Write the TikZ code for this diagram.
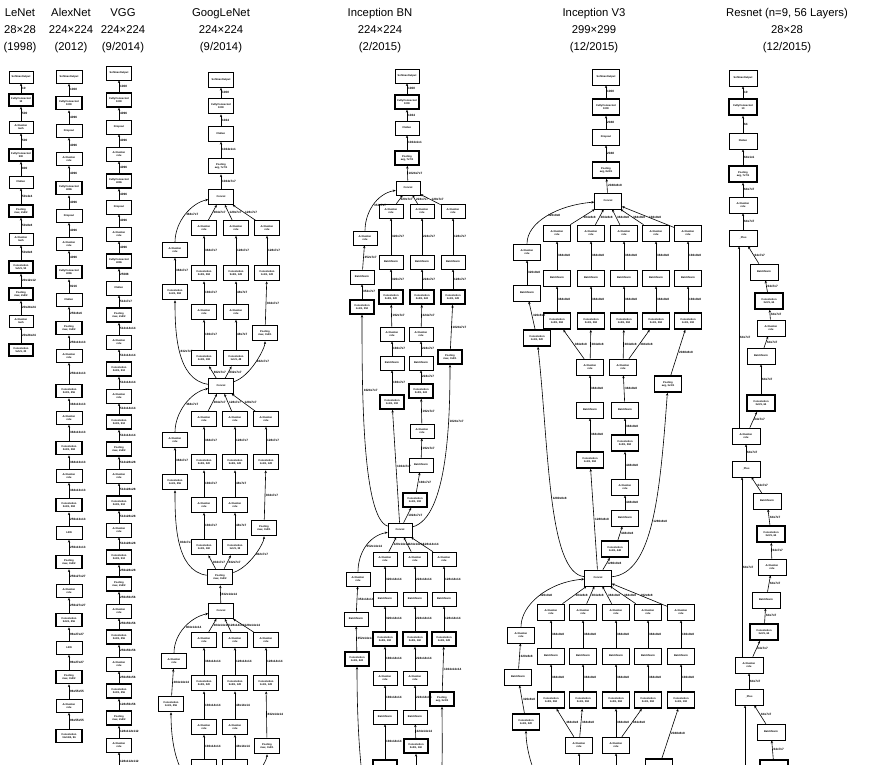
\documentclass[tikz,border=0pt]{standalone}
\usepackage{fontspec}
\setmainfont{Liberation Sans}
\usepackage{tikz}
\usetikzlibrary{arrows.meta}
\newcommand{\lact}{Activation\\relu}
\newcommand{\lbn}{BatchNorm}
\newcommand{\lcat}{Concat}
\newcommand{\lplus}{\_Plus}

\begin{document}
\begin{tikzpicture}[x=1pt, y=-1pt,
  lay/.style={draw, line width=0.6pt, fill=white, align=center, inner sep=0.3pt,
              minimum width=25pt, minimum height=14pt, font=\fontsize{2.6}{3.1}\selectfont\bfseries},
  hvy/.style={lay, line width=1.6pt},
  ar/.style={-{Stealth[length=2.8pt, width=2.4pt]}, line width=0.6pt},
  lb/.style={right, inner sep=0.8pt, font=\fontsize{3.1}{3.4}\selectfont\bfseries},
  ttl/.style={align=center, inner sep=0pt, font=\fontsize{11.3}{17}\selectfont}
]
\useasboundingbox (0,0) rectangle (869,764);

% titles
\node[ttl] (tle) at (20,31) {LeNet\\28×28\\(1998)};
\node[ttl] (tal) at (71,31) {AlexNet\\224×224\\(2012)};
\node[ttl] (tvg) at (123,31) {VGG\\224×224\\(9/2014)};
\node[ttl] (tgo) at (221,31) {GoogLeNet\\224×224\\(9/2014)};
\node[ttl] (tbn) at (380,31) {Inception BN\\224×224\\(2/2015)};
\node[ttl] (tv3) at (594,31) {Inception V3\\299×299\\(12/2015)};
\node[ttl] (trs) at (787,31) {Resnet (n=9, 56 Layers)\\28×28\\(12/2015)};

% LeNet
\begin{scope}[lay/.append style={minimum width=24pt, minimum height=12pt}]
\foreach \y/\s/\t/\lab [count=\i] in {
  77/lay/SoftmaxOutput/{},
  100/hvy/{FullyConnected\\10}/10,
  127/lay/{Activation\\tanh}/500,
  155/hvy/{FullyConnected\\500}/500,
  182/lay/Flatten/800,
  211/hvy/{Pooling\\max, 2x2/2}/{50x4x4},
  239/lay/{Activation\\tanh}/{50x8x8},
  267/hvy/{Convolution\\5x5/1, 50}/{50x8x8},
  294/hvy/{Pooling\\max, 2x2/2}/{20x12x12},
  321/lay/{Activation\\tanh}/{20x24x24},
  350/hvy/{Convolution\\5x5/1, 20}/{20x24x24}}{
  \node[\s] (le\i) at (21,\y) {\t};
  \ifnum\i>1 \pgfmathtruncatemacro{\j}{\i-1}\draw[ar] (le\i) -- node[lb]{\lab} (le\j);\fi
}
\end{scope}

% AlexNet
\begin{scope}[lay/.append style={minimum width=26pt, minimum height=13pt}]
\foreach \y/\s/\t/\lab [count=\i] in {
  77/lay/SoftmaxOutput/{},
  103/hvy/{FullyConnected\\1000}/1000,
  131/lay/Dropout/4096,
  159/lay/\lact/4096,
  188/hvy/{FullyConnected\\4096}/4096,
  216/lay/Dropout/4096,
  244/lay/\lact/4096,
  272/hvy/{FullyConnected\\4096}/4096,
  300/lay/Flatten/9216,
  328/hvy/{Pooling\\max, 3x3/2}/{256x6x6},
  356/lay/\lact/{256x13x13},
  391/hvy/{Convolution\\3x3/1, 256}/{256x13x13},
  418/lay/\lact/{384x13x13},
  448/hvy/{Convolution\\3x3/1, 384}/{384x13x13},
  476/lay/\lact/{384x13x13},
  505/hvy/{Convolution\\3x3/1, 384}/{384x13x13},
  533/lay/LRN/{256x13x13},
  562/hvy/{Pooling\\max, 3x3/2}/{256x13x13},
  591/lay/\lact/{256x27x27},
  620/hvy/{Convolution\\5x5/1, 256}/{256x27x27},
  648/lay/LRN/{96x27x27},
  677/hvy/{Pooling\\max, 3x3/2}/{96x27x27},
  706/lay/\lact/{96x55x55},
  736/hvy/{Convolution\\11x11/4, 96}/{96x55x55}}{
  \node[\s] (al\i) at (69,\y) {\t};
  \ifnum\i>1 \pgfmathtruncatemacro{\j}{\i-1}\draw[ar] (al\i) -- node[lb]{\lab} (al\j);\fi
}
\end{scope}

% VGG
\begin{scope}[lay/.append style={minimum width=25pt, minimum height=14pt}]
\foreach \y/\s/\t/\lab [count=\i] in {
  73/lay/SoftmaxOutput/{},
  100/hvy/{FullyConnected\\1000}/1000,
  127/lay/Dropout/4096,
  154/lay/\lact/4096,
  181/hvy/{FullyConnected\\4096}/4096,
  207/lay/Dropout/4096,
  234/lay/\lact/4096,
  261/hvy/{FullyConnected\\4096}/4096,
  288/lay/Flatten/25088,
  315/hvy/{Pooling\\max, 2x2/2}/{512x7x7},
  342/lay/\lact/{512x14x14},
  369/hvy/{Convolution\\3x3/1, 512}/{512x14x14},
  396/lay/\lact/{512x14x14},
  422/hvy/{Convolution\\3x3/1, 512}/{512x14x14},
  449/hvy/{Pooling\\max, 2x2/2}/{512x14x14},
  476/lay/\lact/{512x28x28},
  503/hvy/{Convolution\\3x3/1, 512}/{512x28x28},
  530/lay/\lact/{512x28x28},
  557/hvy/{Convolution\\3x3/1, 512}/{512x28x28},
  584/hvy/{Pooling\\max, 2x2/2}/{256x28x28},
  611/lay/\lact/{256x56x56},
  637/hvy/{Convolution\\3x3/1, 256}/{256x56x56},
  664/lay/\lact/{256x56x56},
  691/hvy/{Convolution\\3x3/1, 256}/{256x56x56},
  718/hvy/{Pooling\\max, 2x2/2}/{128x56x56},
  745/lay/\lact/{128x112x112}}{
  \node[\s] (vg\i) at (119,\y) {\t};
  \ifnum\i>1 \pgfmathtruncatemacro{\j}{\i-1}\draw[ar] (vg\i) -- node[lb]{\lab} (vg\j);\fi
}
\end{scope}
\coordinate (vgx) at (119,800);
\draw[ar] (vgx) -- node[lb, pos=0.8]{128x112x112} (vg26);

% GoogLeNet
\begin{scope}[lay/.append style={minimum width=25pt, minimum height=15pt}]
\foreach \n/\x/\y/\s/\t in {
  g1/221/80/lay/SoftmaxOutput, g2/221/106/hvy/{FullyConnected\\1000},
  g3/221/134/lay/Flatten, g4/221/166/hvy/{Pooling\\avg, 7x7/1}, gc1/221/197/lay/\lcat,
  g1a1/204/228/lay/\lact, g1b1/236/228/lay/\lact, g1c1/267/228/lay/\lact, g1l1/175/250/lay/\lact,
  g1a2/204/273/hvy/{Convolution\\3x3/1, 384}, g1b2/236/273/hvy/{Convolution\\5x5/1, 128},
  g1c2/267/273/hvy/{Convolution\\1x1/1, 128}, g1l2/175/292/hvy/{Convolution\\1x1/1, 384},
  g1a3/204/312/lay/\lact, g1b3/236/312/lay/\lact, g1p/265/333/hvy/{Pooling\\max, 3x3/1},
  g1a4/204/358/hvy/{Convolution\\1x1/1, 192}, g1b4/236/358/hvy/{Convolution\\1x1/1, 48},
  gc2/221/386/lay/\lcat,
  g2a1/204/419/lay/\lact, g2b1/235/419/lay/\lact, g2c1/266/419/lay/\lact, g2l1/175/440/lay/\lact,
  g2a2/204/462/hvy/{Convolution\\3x3/1, 320}, g2b2/235/462/hvy/{Convolution\\5x5/1, 128},
  g2c2/266/462/hvy/{Convolution\\1x1/1, 128}, g2l2/175/482/hvy/{Convolution\\1x1/1, 256},
  g2a3/204/505/lay/\lact, g2b3/235/505/lay/\lact, g2p/264/528/hvy/{Pooling\\max, 3x3/1},
  g2a4/204/547/hvy/{Convolution\\1x1/1, 160}, g2b4/235/547/hvy/{Convolution\\1x1/1, 32},
  gm/220/577/hvy/{Pooling\\max, 3x3/2}, gc3/221/611/lay/\lcat,
  g3a1/204/640/lay/\lact, g3b1/235/640/lay/\lact, g3c1/266/640/lay/\lact, g3l1/174/661/lay/\lact,
  g3a2/204/683/hvy/{Convolution\\3x3/1, 320}, g3b2/235/683/hvy/{Convolution\\5x5/1, 128},
  g3c2/266/683/hvy/{Convolution\\1x1/1, 128}, g3l2/171/704/hvy/{Convolution\\1x1/1, 256},
  g3a3/204/727/lay/\lact, g3b3/235/727/lay/\lact, g3p/267/746/hvy/{Pooling\\max, 3x3/1},
  g3a4/204/767/hvy/{}, g3b4/235/767/hvy/{}}
  {\node[\s] (\n) at (\x,\y) {\t};}
\end{scope}
\coordinate (gx) at (221,800);

\foreach \u/\v/\lab in {g2/g1/1000, g3/g2/1024, g4/g3/{1024x1x1}, gc1/g4/{1024x7x7}, gc3/gm/{832x14x14}}
  {\draw[ar] (\u) -- node[lb]{\lab} (\v);}
\foreach \m/\sz in {1/7x7, 2/7x7, 3/14x14}{
  \draw[ar] (g\m a1) -- node[lb]{384x\sz} (gc\m);
  \draw[ar] (g\m b1) -- node[lb]{128x\sz} (gc\m);
  \draw[ar] (g\m c1) -- node[lb]{128x\sz} (gc\m);
  \draw[ar] (g\m l1) .. controls +(0,-28) and +(-30,6) .. (gc\m) node[lb, midway]{384x\sz};
  \draw[ar] (g\m a2) -- node[lb]{384x\sz} (g\m a1);
  \draw[ar] (g\m a3) -- node[lb]{192x\sz} (g\m a2);
  \draw[ar] (g\m a4) -- node[lb]{192x\sz} (g\m a3);
  \draw[ar] (g\m b2) -- node[lb]{128x\sz} (g\m b1);
  \draw[ar] (g\m b3) -- node[lb]{48x\sz} (g\m b2);
  \draw[ar] (g\m b4) -- node[lb]{48x\sz} (g\m b3);
  \draw[ar] (g\m c2) -- node[lb]{128x\sz} (g\m c1);
  \draw[ar] (g\m p) -- node[lb]{832x\sz} (g\m c2);
  \draw[ar] (g\m l2) -- node[lb]{384x\sz} (g\m l1);
}
\foreach \m/\S in {1/gc2, 2/gm}{
  \draw[ar] (\S) -- node[lb]{832x7x7} (g\m a4);
  \draw[ar] (\S) -- node[lb]{832x7x7} (g\m b4);
  \draw[ar] (\S) .. controls +(30,-10) and +(0,15) .. (g\m p) node[lb, midway]{832x7x7};
  \draw[ar] (\S) .. controls +(-45,-6) and +(0,38) .. (g\m l2) node[lb, midway]{832x7x7};
}
\draw[ar] (gx) -- (g3a4);
\draw[ar] (gx) -- (g3b4);
\draw[ar] (gx) .. controls +(30,-10) and +(0,15) .. (g3p);
\draw[ar] (gx) .. controls +(-45,-6) and +(0,38) .. (g3l2);

% Inception BN
\begin{scope}[lay/.append style={minimum width=24pt, minimum height=14pt}]
\foreach \n/\x/\y/\s/\t in {
  n1/407/76/lay/SoftmaxOutput, n2/407/102/hvy/{FullyConnected\\1000},
  n3/407/128/lay/Flatten, n4/407/158/hvy/{Pooling\\avg, 7x7/1}, nc1/408/188/lay/\lcat,
  n1a1/391/211/lay/\lact, n1b1/422/211/lay/\lact, n1c1/453/211/lay/\lact, n1l1/365/238/lay/\lact,
  n1a2/391/262/lay/\lbn, n1b2/422/262/lay/\lbn, n1c2/453/262/lay/\lbn, n1l2/362/277/lay/\lbn,
  n1a3/391/297/hvy/{Convolution\\3x3/1, 320}, n1b3/422/297/hvy/{Convolution\\3x3/1, 224},
  n1c3/453/297/hvy/{Convolution\\1x1/1, 128}, n1l3/362/307/hvy/{Convolution\\1x1/1, 352},
  n1a4/392/334/lay/\lact, n1b4/421/334/lay/\lact, n1p/450/357/hvy/{Pooling\\max, 3x3/1},
  n1a5/392/363/lay/\lbn, n1b5/421/363/lay/\lbn,
  n1a6/392/402/hvy/{Convolution\\1x1/1, 192}, n1b6/421/391/hvy/{Convolution\\3x3/1, 224},
  n1b7/422/431/lay/\lact, n1b8/421/465/lay/\lbn, n1b9/415/500/hvy/{Convolution\\1x1/1, 192},
  nc2/400/530/lay/\lcat,
  n2a1/385/559/lay/\lact, n2b1/415/559/lay/\lact, n2c1/444/559/lay/\lact, n2l1/358/579/lay/\lact,
  n2a2/385/599/lay/\lbn, n2b2/415/599/lay/\lbn, n2c2/444/599/lay/\lbn, n2l2/356/619/lay/\lbn,
  n2a3/385/639/hvy/{Convolution\\3x3/1, 192}, n2b3/415/639/hvy/{Convolution\\3x3/1, 160},
  n2c3/444/639/hvy/{Convolution\\1x1/1, 128}, n2l3/357/659/hvy/{Convolution\\1x1/1, 224},
  n2a4/385/678/lay/\lact, n2b4/415/678/lay/\lact, n2p/442/699/hvy/{Pooling\\avg, 3x3/1},
  n2a5/385/717/lay/\lbn, n2b5/415/717/lay/\lbn,
  n2b6/416/746/hvy/{Convolution\\3x3/1, 160}, n2a6/385/767/hvy/{}}
  {\node[\s] (\n) at (\x,\y) {\t};}
\end{scope}

\foreach \u/\v/\lab in {n2/n1/1000, n3/n2/1024, n4/n3/{1024x1x1}, nc1/n4/{1024x7x7}}
  {\draw[ar] (\u) -- node[lb]{\lab} (\v);}
\foreach \m/\sz in {1/7x7, 2/14x14}{
  \draw[ar] (n\m a1) -- node[lb]{320x\sz} (nc\m);
  \draw[ar] (n\m b1) -- node[lb]{224x\sz} (nc\m);
  \draw[ar] (n\m c1) -- node[lb]{128x\sz} (nc\m);
  \draw[ar] (n\m l1) .. controls +(0,-25) and +(-32,6) .. (nc\m) node[lb, midway]{352x\sz};
  \draw[ar] (n\m a2) -- node[lb]{320x\sz} (n\m a1);
  \draw[ar] (n\m a3) -- node[lb]{320x\sz} (n\m a2);
  \draw[ar] (n\m a4) -- node[lb]{192x\sz} (n\m a3);
  \draw[ar] (n\m a5) -- node[lb]{192x\sz} (n\m a4);
  \draw[ar] (n\m a6) -- node[lb]{192x\sz} (n\m a5);
  \draw[ar] (n\m b2) -- node[lb]{224x\sz} (n\m b1);
  \draw[ar] (n\m b3) -- node[lb]{224x\sz} (n\m b2);
  \draw[ar] (n\m b4) -- node[lb]{224x\sz} (n\m b3);
  \draw[ar] (n\m b5) -- node[lb]{224x\sz} (n\m b4);
  \draw[ar] (n\m b6) -- node[lb]{224x\sz} (n\m b5);
  \draw[ar] (n\m c2) -- node[lb]{128x\sz} (n\m c1);
  \draw[ar] (n\m c3) -- node[lb]{128x\sz} (n\m c2);
  \draw[ar] (n\m p) -- node[lb]{1024x\sz} (n\m c3);
  \draw[ar] (n\m l2) -- node[lb]{352x\sz} (n\m l1);
  \draw[ar] (n\m l3) -- node[lb]{352x\sz} (n\m l2);
}
\foreach \u/\v/\lab in {n1b7/n1b6/{192x7x7}, n1b8/n1b7/{192x7x7}, n1b9/n1b8/{192x7x7}, nc2/n1b9/{1024x7x7}, nc2/n1a6/{1024x7x7}}
  {\draw[ar] (\u) -- node[lb]{\lab} (\v);}
\draw[ar] (nc2) .. controls +(48,-12) and +(0,60) .. (n1p) node[lb, pos=0.7]{1024x7x7};
\draw[ar] (nc2) .. controls +(-38,-12) and +(0,80) .. (n1l3) node[lb, pos=0.7]{1024x7x7};
\coordinate (nx) at (400,872);
\coordinate (n2bx) at (416,800);
\draw[ar] (n2bx) -- (n2b6);
\draw[ar] (nx) -- (n2a6);
\draw[ar] (nx) .. controls +(48,-12) and +(0,60) .. (n2p);
\draw[ar] (nx) .. controls +(-38,-12) and +(0,80) .. (n2l3);

% Inception V3
\begin{scope}[lay/.append style={minimum width=27pt, minimum height=16pt}]
\foreach \n/\x/\y/\s/\t in {
  v1/606/77/lay/SoftmaxOutput, v2/606/107/hvy/{FullyConnected\\1000},
  v3/606/137/lay/Dropout, v4/606/170/hvy/{Pooling\\avg, 8x8/1}, vc1/608/201/lay/\lcat,
  v1a1/557/233/lay/\lact, v1b1/591/233/lay/\lact, v1c1/624/233/lay/\lact,
  v1d1/656/233/lay/\lact, v1e1/688/233/lay/\lact, v1l1/527/252/lay/\lact,
  v1a2/557/278/lay/\lbn, v1b2/591/278/lay/\lbn, v1c2/624/278/lay/\lbn,
  v1d2/656/278/lay/\lbn, v1e2/688/278/lay/\lbn, v1l2/527/293/lay/\lbn,
  v1a3/557/321/hvy/{Convolution\\1x3/1, 384}, v1b3/591/321/hvy/{Convolution\\3x1/1, 384},
  v1c3/624/321/hvy/{Convolution\\1x3/1, 384}, v1d3/656/321/hvy/{Convolution\\3x1/1, 384},
  v1e3/688/321/hvy/{Convolution\\1x1/1, 192}, v1l3/537/338/hvy/{Convolution\\1x1/1, 320},
  v1s/590/367/lay/\lact, v1t/623/367/lay/\lact, v1p/668/384/hvy/{Pooling\\avg, 3x3/1},
  v1s5/590/410/lay/\lbn, v1t5/625/410/lay/\lbn,
  v1t6/625/443/hvy/{Convolution\\3x3/1, 384}, v1s6/590/460/hvy/{Convolution\\1x1/1, 384},
  v1t7/625/487/lay/\lact, v1t8/625/518/lay/\lbn, v1t9/615/549/hvy/{Convolution\\1x1/1, 448},
  vc2/598/578/lay/\lcat,
  v2a1/551/612/lay/\lact, v2b1/583/612/lay/\lact, v2c1/616/612/lay/\lact,
  v2d1/648/612/lay/\lact, v2e1/681/612/lay/\lact, v2l1/521/635/lay/\lact,
  v2a2/551/656/lay/\lbn, v2b2/583/656/lay/\lbn, v2c2/616/656/lay/\lbn,
  v2d2/648/656/lay/\lbn, v2e2/681/656/lay/\lbn, v2l2/518/677/lay/\lbn,
  v2a3/551/700/hvy/{Convolution\\1x3/1, 384}, v2b3/583/700/hvy/{Convolution\\3x1/1, 384},
  v2c3/616/700/hvy/{Convolution\\1x3/1, 384}, v2d3/648/700/hvy/{Convolution\\3x1/1, 384},
  v2e3/681/700/hvy/{Convolution\\1x1/1, 192}, v2l3/526/722/hvy/{Convolution\\1x1/1, 320},
  v2s/579/745/lay/\lact, v2t/616/745/lay/\lact, v2p/659/767/hvy/{}}
  {\node[\s] (\n) at (\x,\y) {\t};}
\end{scope}

\foreach \u/\v/\lab in {v2/v1/1000, v3/v2/2048, v4/v3/2048, vc1/v4/{2048x8x8}}
  {\draw[ar] (\u) -- node[lb]{\lab} (\v);}
\foreach \m in {1,2}{
  \foreach \q/\w in {a/384, b/384, c/384, d/384, e/192}{
    \draw[ar] (v\m\q1) -- node[lb]{\w x8x8} (vc\m);
    \draw[ar] (v\m\q2) -- node[lb]{\w x8x8} (v\m\q1);
    \draw[ar] (v\m\q3) -- node[lb]{\w x8x8} (v\m\q2);
  }
  \draw[ar] (v\m l1) .. controls +(0,-30) and +(-50,4) .. (vc\m) node[lb, midway]{320x8x8};
  \draw[ar] (v\m l2) -- node[lb]{320x8x8} (v\m l1);
  \draw[ar] (v\m l3) -- node[lb]{320x8x8} (v\m l2);
  \draw[ar] (v\m s) -- node[lb]{384x8x8} (v\m a3);
  \draw[ar] (v\m s) -- node[lb]{384x8x8} (v\m b3);
  \draw[ar] (v\m t) -- node[lb]{384x8x8} (v\m c3);
  \draw[ar] (v\m t) -- node[lb]{384x8x8} (v\m d3);
  \draw[ar] (v\m p) -- node[lb]{2048x8x8} (v\m e3);
}
\foreach \u/\v/\lab in {v1s5/v1s/{384x8x8}, v1s6/v1s5/{384x8x8}, vc2/v1s6/{1280x8x8},
  v1t5/v1t/{384x8x8}, v1t6/v1t5/{384x8x8}, v1t7/v1t6/{448x8x8}, v1t8/v1t7/{448x8x8},
  v1t9/v1t8/{448x8x8}, vc2/v1t9/{1280x8x8}}
  {\draw[ar] (\u) -- node[lb]{\lab} (\v);}
\draw[ar] (vc2) .. controls +(-50,-5) and +(12,110) .. (v1l3) node[lb, midway]{1280x8x8};
\draw[ar] (vc2) .. controls +(55,-5) and +(-8,110) .. (v1p) node[lb, midway]{1280x8x8};
\coordinate (v2x) at (598,830);
\coordinate (v2sx) at (579,800);
\coordinate (v2tx) at (616,800);
\draw[ar] (v2sx) -- (v2s);
\draw[ar] (v2tx) -- (v2t);
\draw[ar] (v2x) .. controls +(-50,-5) and +(0,40) .. (v2l3);
\draw[ar] (v2x) .. controls +(55,-5) and +(0,30) .. (v2p);

% Resnet
\begin{scope}[lay/.append style={minimum width=28pt, minimum height=16pt}]
\foreach \n/\x/\y/\s/\t in {
  r1/743/78/lay/SoftmaxOutput, r2/743/107/hvy/{FullyConnected\\10}, r3/743/141/lay/Flatten,
  r4/743/174/hvy/{Pooling\\avg, 7x7/1}, r5/743/205/lay/\lact, r6/743/238/lay/\lplus,
  r7/764/272/lay/\lbn, r8/769/301/hvy/{Convolution\\3x3/1, 64}, r9/771/328/lay/\lact,
  r10/761/356/lay/\lbn, r11/761/403/hvy/{Convolution\\3x3/1, 64}, r12/746/436/lay/\lact,
  r13/746/469/lay/\lplus, r14/767/501/lay/\lbn, r15/771/534/hvy/{Convolution\\3x3/1, 64},
  r16/772/567/lay/\lact, r17/766/600/lay/\lbn, r18/764/632/hvy/{Convolution\\3x3/1, 64},
  r19/749/665/lay/\lact, r20/749/697/lay/\lplus, r21/771/732/lay/\lbn,
  r22/774/768/hvy/{}}
  {\node[\s] (\n) at (\x,\y) {\t};}
\end{scope}

\foreach \u/\v/\lab in {r2/r1/10, r3/r2/64, r4/r3/{64x1x1}, r5/r4/{64x7x7}, r6/r5/{64x7x7},
  r7/r6/{64x7x7}, r8/r7/{64x7x7}, r9/r8/{64x7x7}, r10/r9/{64x7x7}, r11/r10/{64x7x7},
  r12/r11/{64x7x7}, r13/r12/{64x7x7}, r14/r13/{64x7x7}, r15/r14/{64x7x7}, r16/r15/{64x7x7},
  r17/r16/{64x7x7}, r18/r17/{64x7x7}, r19/r18/{64x7x7}, r20/r19/{64x7x7}, r21/r20/{64x7x7},
  r22/r21/{64x7x7}}
  {\draw[ar] (\u) -- node[lb]{\lab} (\v);}
\draw[ar] ([xshift=-7pt]r12.north) -- node[lb]{64x7x7} ([xshift=-4pt]r6.south);
\draw[ar] ([xshift=-7pt]r19.north) -- node[lb]{64x7x7} ([xshift=-4pt]r13.south);
\coordinate (rx) at (745,800);
\draw[ar] (rx) -- ([xshift=-4pt]r20.south);
\end{tikzpicture}
\end{document}
